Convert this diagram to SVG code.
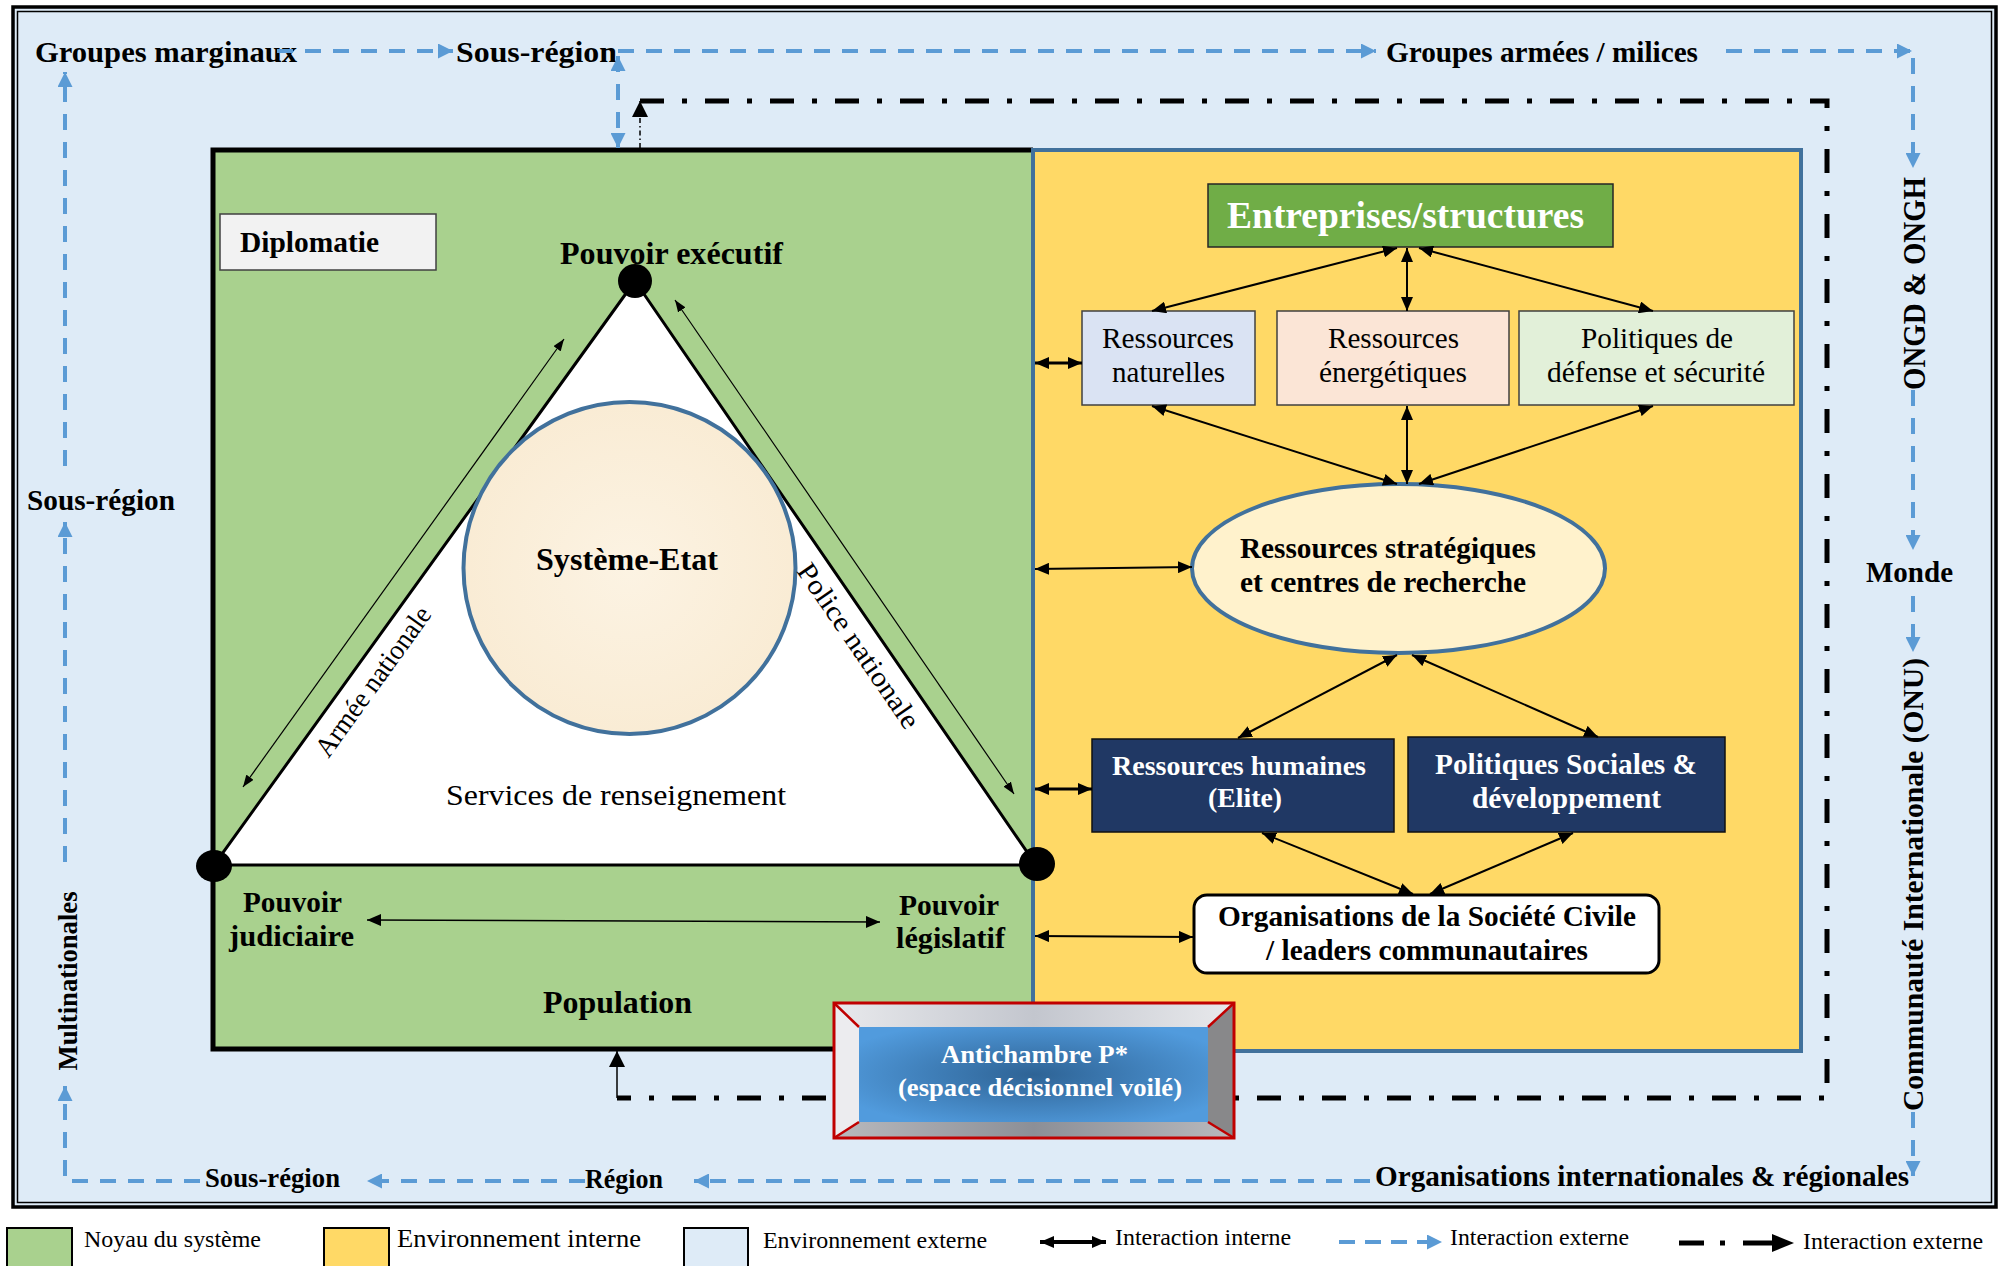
<svg xmlns="http://www.w3.org/2000/svg" width="2004" height="1266" viewBox="0 0 2004 1266">
<defs>
<style>
text{font-family:"Liberation Serif","Times New Roman",serif;fill:#000}
.b{font-weight:bold}
.w{fill:#fff}
.ia{stroke:#000;stroke-width:2;fill:none;marker-start:url(#ah);marker-end:url(#ah)}
.ib{stroke:#000;stroke-width:3;fill:none;marker-start:url(#ah);marker-end:url(#ah)}
.it{stroke:#000;stroke-width:1.2;fill:none;marker-start:url(#as);marker-end:url(#as)}
.ext{stroke:#5B9BD5;stroke-width:4;fill:none;stroke-dasharray:16 12;marker-end:url(#ab)}
.dd{stroke:#000;stroke-width:5;fill:none;stroke-dasharray:24 18 5 18}
</style>
<marker id="ah" viewBox="0 0 14 12" refX="14" refY="6" markerWidth="14" markerHeight="12" markerUnits="userSpaceOnUse" orient="auto-start-reverse"><path d="M0,0 L14,6 L0,12 z" fill="#000"/></marker>
<marker id="as" viewBox="0 0 12 9" refX="12" refY="4.5" markerWidth="12" markerHeight="9" markerUnits="userSpaceOnUse" orient="auto-start-reverse"><path d="M0,0 L12,4.5 L0,9 z" fill="#000"/></marker>
<marker id="ab" viewBox="0 0 15 15" refX="15" refY="7.5" markerWidth="15" markerHeight="15" markerUnits="userSpaceOnUse" orient="auto-start-reverse"><path d="M0,0 L15,7.5 L0,15 z" fill="#5B9BD5"/></marker>
<marker id="ak" viewBox="0 0 16 16" refX="16" refY="8" markerWidth="16" markerHeight="16" markerUnits="userSpaceOnUse" orient="auto-start-reverse"><path d="M0,0 L16,8 L0,16 z" fill="#000"/></marker>
<radialGradient id="gSys" cx="50%" cy="50%" r="55%"><stop offset="0" stop-color="#FCF3E3"/><stop offset="1" stop-color="#F9EBD3"/></radialGradient>
<radialGradient id="gBlue" cx="50%" cy="50%" r="60%"><stop offset="0" stop-color="#2E6395"/><stop offset="1" stop-color="#519BDD"/></radialGradient>
<linearGradient id="gTop" x1="0" y1="0" x2="1" y2="0"><stop offset="0" stop-color="#E8E9EC"/><stop offset="0.5" stop-color="#C3C6CE"/><stop offset="1" stop-color="#E8E9EC"/></linearGradient>
<linearGradient id="gBot" x1="0" y1="0" x2="1" y2="0"><stop offset="0" stop-color="#B8B9BD"/><stop offset="0.5" stop-color="#8C8F97"/><stop offset="1" stop-color="#B8B9BD"/></linearGradient>
</defs>

<!-- external environment frame -->
<g id="environnement-externe">
<rect x="13" y="7" width="1983" height="1200" fill="#DEEBF7" stroke="#000" stroke-width="3.5"/>
<rect x="17.5" y="11.5" width="1974" height="1191" fill="none" stroke="#000" stroke-width="1.5"/>
</g>

<!-- core & internal environment -->
<g id="noyau">
<rect x="213" y="150" width="820" height="899" fill="#A9D18E"/>
<path d="M1033 150 H213 V1049 H1033" fill="none" stroke="#000" stroke-width="5"/>
</g>
<g id="environnement-interne">
<rect x="1033" y="150" width="768" height="901" fill="#FFD966" stroke="#41719C" stroke-width="4"/>
</g>

<!-- external labels -->
<g id="groupes-marginaux"><text class="b" x="35" y="62" font-size="30" textLength="262" lengthAdjust="spacingAndGlyphs">Groupes marginaux</text></g>
<g id="sous-region-haut"><text class="b" x="456" y="62" font-size="30" textLength="161" lengthAdjust="spacingAndGlyphs">Sous-région</text></g>
<g id="groupes-armees"><text class="b" x="1386" y="62" font-size="30" textLength="312" lengthAdjust="spacingAndGlyphs">Groupes armées / milices</text></g>
<g id="sous-region-gauche"><text class="b" x="27" y="510" font-size="29" textLength="148" lengthAdjust="spacingAndGlyphs">Sous-région</text></g>
<g id="multinationales"><text class="b" transform="translate(77,981) rotate(-90)" text-anchor="middle" font-size="27" textLength="179" lengthAdjust="spacingAndGlyphs">Multinationales</text></g>
<g id="sous-region-bas"><text class="b" x="205" y="1187" font-size="27" textLength="135" lengthAdjust="spacingAndGlyphs">Sous-région</text></g>
<g id="region"><text class="b" x="585" y="1188" font-size="27" textLength="78" lengthAdjust="spacingAndGlyphs">Région</text></g>
<g id="org-internationales"><text class="b" x="1375" y="1186" font-size="30" textLength="534" lengthAdjust="spacingAndGlyphs">Organisations internationales &amp; régionales</text></g>
<g id="ongd"><text class="b" transform="translate(1925,283.5) rotate(-90)" text-anchor="middle" font-size="31" textLength="213" lengthAdjust="spacingAndGlyphs">ONGD &amp; ONGH</text></g>
<g id="monde"><text class="b" x="1866" y="582" font-size="29" textLength="87" lengthAdjust="spacingAndGlyphs">Monde</text></g>
<g id="communaute"><text class="b" transform="translate(1923,884.5) rotate(-90)" text-anchor="middle" font-size="30" textLength="453" lengthAdjust="spacingAndGlyphs">Communauté Internationale (ONU)</text></g>

<!-- core nodes -->
<g id="diplomatie">
<rect x="220" y="214" width="216" height="56" fill="#F2F2F2" stroke="#404040" stroke-width="1.5"/>
<text class="b" x="240" y="252" font-size="29" textLength="139" lengthAdjust="spacingAndGlyphs">Diplomatie</text>
</g>
<g id="triangle-pouvoirs">
<polygon points="635,281 214,865 1036,865" fill="#fff" stroke="#000" stroke-width="3"/>
</g>
<g id="systeme-etat">
<circle cx="629.5" cy="568" r="166" fill="url(#gSys)" stroke="#41719C" stroke-width="4"/>
<text class="b" x="536" y="570" font-size="31" textLength="182" lengthAdjust="spacingAndGlyphs">Système-Etat</text>
</g>
<g id="services-renseignement"><text x="446" y="805" font-size="30" textLength="340" lengthAdjust="spacingAndGlyphs">Services de renseignement</text></g>
<g id="armee-nationale"><text transform="translate(380.5,686.7) rotate(-54.2)" text-anchor="middle" font-size="28" textLength="178" lengthAdjust="spacingAndGlyphs">Armée nationale</text></g>
<g id="police-nationale"><text transform="translate(851,651) rotate(55.5)" text-anchor="middle" font-size="28" textLength="194" lengthAdjust="spacingAndGlyphs">Police nationale</text></g>
<g id="pouvoir-executif">
<text class="b" x="560" y="264" font-size="31" textLength="223" lengthAdjust="spacingAndGlyphs">Pouvoir exécutif</text>
<ellipse cx="635" cy="281" rx="17" ry="17" fill="#000"/>
</g>
<g id="pouvoir-judiciaire">
<ellipse cx="214" cy="866" rx="18" ry="16" fill="#000"/>
<text class="b" x="243" y="912" font-size="30" textLength="99" lengthAdjust="spacingAndGlyphs">Pouvoir</text>
<text class="b" x="229" y="946" font-size="30" textLength="125" lengthAdjust="spacingAndGlyphs">judiciaire</text>
</g>
<g id="pouvoir-legislatif">
<ellipse cx="1037" cy="864" rx="18" ry="17" fill="#000"/>
<text class="b" x="899" y="915" font-size="30" textLength="100" lengthAdjust="spacingAndGlyphs">Pouvoir</text>
<text class="b" x="896" y="948" font-size="30" textLength="109" lengthAdjust="spacingAndGlyphs">législatif</text>
</g>
<g id="population"><text class="b" x="543" y="1013" font-size="31" textLength="149" lengthAdjust="spacingAndGlyphs">Population</text></g>

<!-- internal environment nodes -->
<g id="entreprises">
<rect x="1208" y="184" width="405" height="63" fill="#70AD47" stroke="#262626" stroke-width="1.5"/>
<text class="b w" x="1227" y="228" font-size="37" textLength="357" lengthAdjust="spacingAndGlyphs">Entreprises/structures</text>
</g>
<g id="ressources-naturelles">
<rect x="1082" y="311" width="173" height="94" fill="#DAE3F3" stroke="#404040" stroke-width="1.5"/>
<text x="1102" y="348" font-size="29" textLength="132" lengthAdjust="spacingAndGlyphs">Ressources</text>
<text x="1112" y="382" font-size="29" textLength="113" lengthAdjust="spacingAndGlyphs">naturelles</text>
</g>
<g id="ressources-energetiques">
<rect x="1277" y="311" width="232" height="94" fill="#FBE5D6" stroke="#404040" stroke-width="1.5"/>
<text x="1328" y="348" font-size="29" textLength="131" lengthAdjust="spacingAndGlyphs">Ressources</text>
<text x="1319" y="382" font-size="29" textLength="148" lengthAdjust="spacingAndGlyphs">énergétiques</text>
</g>
<g id="politiques-defense">
<rect x="1519" y="311" width="275" height="94" fill="#E2F0D9" stroke="#404040" stroke-width="1.5"/>
<text x="1581" y="348" font-size="29" textLength="152" lengthAdjust="spacingAndGlyphs">Politiques de</text>
<text x="1547" y="382" font-size="29" textLength="218" lengthAdjust="spacingAndGlyphs">défense et sécurité</text>
</g>
<g id="ressources-strategiques">
<ellipse cx="1398.5" cy="568.5" rx="206.5" ry="84.5" fill="#FFF2CC" stroke="#41719C" stroke-width="4"/>
<text class="b" x="1240" y="558" font-size="29" textLength="296" lengthAdjust="spacingAndGlyphs">Ressources stratégiques</text>
<text class="b" x="1240" y="592" font-size="29" textLength="286" lengthAdjust="spacingAndGlyphs">et centres de recherche</text>
</g>
<g id="ressources-humaines">
<rect x="1092" y="739" width="302" height="93" fill="#203864" stroke="#111" stroke-width="1.5"/>
<text class="b w" x="1112" y="775" font-size="28" textLength="254" lengthAdjust="spacingAndGlyphs">Ressources humaines</text>
<text class="b w" x="1208" y="807" font-size="28" textLength="74" lengthAdjust="spacingAndGlyphs">(Elite)</text>
</g>
<g id="politiques-sociales">
<rect x="1408" y="737" width="317" height="95" fill="#203864" stroke="#111" stroke-width="1.5"/>
<text class="b w" x="1435" y="774" font-size="29" textLength="262" lengthAdjust="spacingAndGlyphs">Politiques Sociales &amp;</text>
<text class="b w" x="1472" y="808" font-size="29" textLength="189" lengthAdjust="spacingAndGlyphs">développement</text>
</g>
<g id="societe-civile">
<rect x="1194" y="895" width="465" height="78" rx="13" ry="13" fill="#fff" stroke="#000" stroke-width="3"/>
<text class="b" x="1218" y="926" font-size="29" textLength="418" lengthAdjust="spacingAndGlyphs">Organisations de la Société Civile</text>
<text class="b" x="1266" y="960" font-size="29" textLength="322" lengthAdjust="spacingAndGlyphs">/ leaders communautaires</text>
</g>

<!-- connectors -->
<g id="connecteurs">
<!-- external (blue dashed) -->
<path class="ext" d="M277 51 H453"/>
<path class="ext" d="M618 51 H1376"/>
<path class="ext" d="M1726 51 H1912"/>
<path class="ext" d="M1913 58 V168"/>
<path class="ext" d="M1913 390 V550"/>
<path class="ext" d="M1913 596 V652"/>
<path class="ext" d="M1913 1112 V1176"/>
<path class="ext" d="M1370 1181 H694"/>
<path class="ext" d="M585 1181 H367"/>
<path class="ext" d="M200 1181 H65 V1086"/>
<path class="ext" d="M65 862 V522"/>
<path class="ext" d="M65 466 V72"/>
<path class="ext" d="M618 56 V148" style="marker-start:url(#ab)"/>
<!-- external (black dash-dot) -->
<path class="dd" d="M640 101 H1827 V1098 H617"/>
<path d="M617 1098 V1051" stroke="#000" stroke-width="1.5" fill="none" marker-end="url(#ak)"/>
<path d="M640 148 V101" stroke="#000" stroke-width="1.5" fill="none" stroke-dasharray="5 3 1.5 3" marker-end="url(#ak)"/>
<!-- internal -->
<line class="ia" x1="1397" y1="248" x2="1152" y2="311"/>
<line class="ia" x1="1407" y1="248" x2="1407" y2="311"/>
<line class="ia" x1="1419" y1="248" x2="1653" y2="311"/>
<line class="ia" x1="1152" y1="406" x2="1397" y2="484"/>
<line class="ia" x1="1407" y1="406" x2="1407" y2="484"/>
<line class="ia" x1="1653" y1="406" x2="1419" y2="484"/>
<line class="ia" x1="1397" y1="655" x2="1238" y2="738"/>
<line class="ia" x1="1412" y1="655" x2="1598" y2="737"/>
<line class="ia" x1="1262" y1="833" x2="1413" y2="894"/>
<line class="ia" x1="1573" y1="833" x2="1430" y2="894"/>
<line class="ib" x1="1035" y1="363" x2="1082" y2="363"/>
<line class="ia" x1="1035" y1="569" x2="1192" y2="567"/>
<line class="ib" x1="1035" y1="789" x2="1092" y2="789"/>
<line class="ia" x1="1035" y1="936" x2="1193" y2="937"/>
<line class="ia" x1="367" y1="920" x2="880" y2="922" style="stroke-width:1.5"/>
<line class="it" x1="243" y1="787" x2="564" y2="339"/>
<line class="it" x1="675" y1="300" x2="1014" y2="794"/>
</g>

<!-- hidden decision space -->
<g id="antichambre">
<rect x="834" y="1003" width="400" height="135" fill="#C9CBD1"/>
<polygon points="834,1003 1234,1003 1208,1027 859,1027" fill="url(#gTop)"/>
<polygon points="834,1003 859,1027 859,1122 834,1138" fill="#ECECEF"/>
<polygon points="1234,1003 1234,1138 1208,1122 1208,1027" fill="#88888A"/>
<polygon points="834,1138 859,1122 1208,1122 1234,1138" fill="url(#gBot)"/>
<rect x="859" y="1027" width="349" height="95" fill="url(#gBlue)"/>
<path d="M834 1003 L859 1027 M1234 1003 L1208 1027 M834 1138 L859 1122 M1234 1138 L1208 1122" stroke="#C00000" stroke-width="2.5"/>
<rect x="834" y="1003" width="400" height="135" fill="none" stroke="#C00000" stroke-width="3"/>
<text class="b w" x="941" y="1063" font-size="26" textLength="187" lengthAdjust="spacingAndGlyphs">Antichambre P*</text>
<text class="b w" x="898" y="1096" font-size="26" textLength="284" lengthAdjust="spacingAndGlyphs">(espace décisionnel voilé)</text>
</g>

<!-- legend -->
<g id="legende">
<rect x="7" y="1228" width="65" height="45" fill="#A9D18E" stroke="#000" stroke-width="2"/>
<text x="84" y="1247" font-size="24" textLength="177" lengthAdjust="spacingAndGlyphs">Noyau du système</text>
<rect x="324" y="1228" width="65" height="45" fill="#FFD966" stroke="#000" stroke-width="2"/>
<text x="397" y="1247" font-size="26" textLength="244" lengthAdjust="spacingAndGlyphs">Environnement interne</text>
<rect x="684" y="1228" width="64" height="45" fill="#DEEBF7" stroke="#000" stroke-width="2"/>
<text x="763" y="1248" font-size="24" textLength="224" lengthAdjust="spacingAndGlyphs">Environnement externe</text>
<line x1="1040" y1="1242" x2="1106" y2="1242" stroke="#000" stroke-width="4" marker-start="url(#ah)" marker-end="url(#ah)"/>
<text x="1115" y="1245" font-size="24" textLength="176" lengthAdjust="spacingAndGlyphs">Interaction interne</text>
<line x1="1339" y1="1242" x2="1442" y2="1242" stroke="#5B9BD5" stroke-width="4" stroke-dasharray="16 10" marker-end="url(#ab)"/>
<text x="1450" y="1245" font-size="24" textLength="179" lengthAdjust="spacingAndGlyphs">Interaction externe</text>
<path d="M1679 1243 H1704 M1720 1243 H1725 M1743 1243 H1772" stroke="#000" stroke-width="5"/>
<path d="M1772 1234 L1794 1243 L1772 1252 z" fill="#000"/>
<text x="1803" y="1249" font-size="24" textLength="180" lengthAdjust="spacingAndGlyphs">Interaction externe</text>
</g>
</svg>
